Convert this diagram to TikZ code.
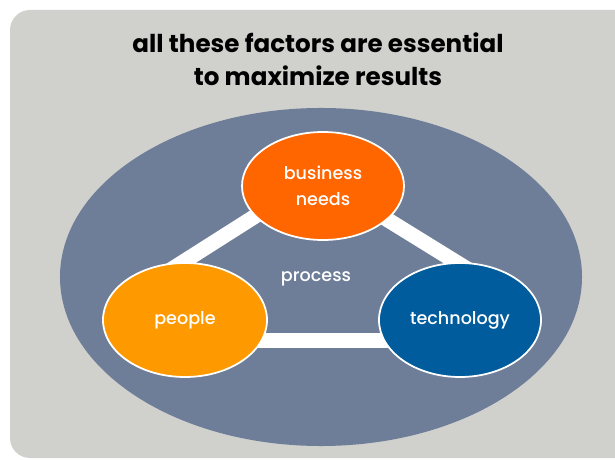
\documentclass[tikz,border=0pt]{standalone}
\usepackage{fontspec}
\setmainfont{Poppins}
\newfontfamily\labelfont{Poppins Medium}
\usetikzlibrary{shapes.geometric}
\definecolor{panelgray}{RGB}{208,208,204}
\definecolor{slate}{RGB}{110,126,152}
\definecolor{bizorange}{RGB}{255,102,0}
\definecolor{pplorange}{RGB}{255,153,0}
\definecolor{techblue}{RGB}{0,92,156}

\begin{document}
\begin{tikzpicture}[x=0.03cm,y=-0.03cm,
    factor/.style={ellipse,draw=white,line width=1.5pt,inner sep=0,text=white,align=center,font=\labelfont\fontsize{15}{22}\selectfont},
    bar/.style={white,line width=12.8pt}]
    \useasboundingbox (0,0) rectangle (615,460);
    \fill[panelgray,rounded corners=0.6cm] (10,10) rectangle (660,458);
    \fill[slate] (321,277) ellipse [x radius=7.83cm,y radius=5.07cm];
    \node[font=\fontsize{21}{28}\selectfont\bfseries,align=center] (title) at (318,59) {all these factors are essential\\to maximize results};

    \coordinate (pl) at (150,283);
    \coordinate (bl) at (275,203.6);
    \coordinate (br) at (370,208.9);
    \coordinate (tr) at (490,283);
    \coordinate (pr) at (200,340.5);
    \coordinate (tl) at (440,340.5);
    \draw[bar] (pl) -- (bl);
    \draw[bar] (br) -- (tr);
    \draw[bar] (pr) -- (tl);

    \node[factor,fill=bizorange,minimum width=4.86cm,minimum height=3.24cm] (business) at (323,186) {business\\needs};
    \node[factor,fill=pplorange,minimum width=4.92cm,minimum height=3.42cm] (people) at (185,320) {people};
    \node[factor,fill=techblue,minimum width=4.86cm,minimum height=3.42cm] (technology) at (460,320) {technology};
    \node[text=white,font=\labelfont\fontsize{15}{22}\selectfont] (process) at (316,279) {process};
  \end{tikzpicture}
\end{document}
